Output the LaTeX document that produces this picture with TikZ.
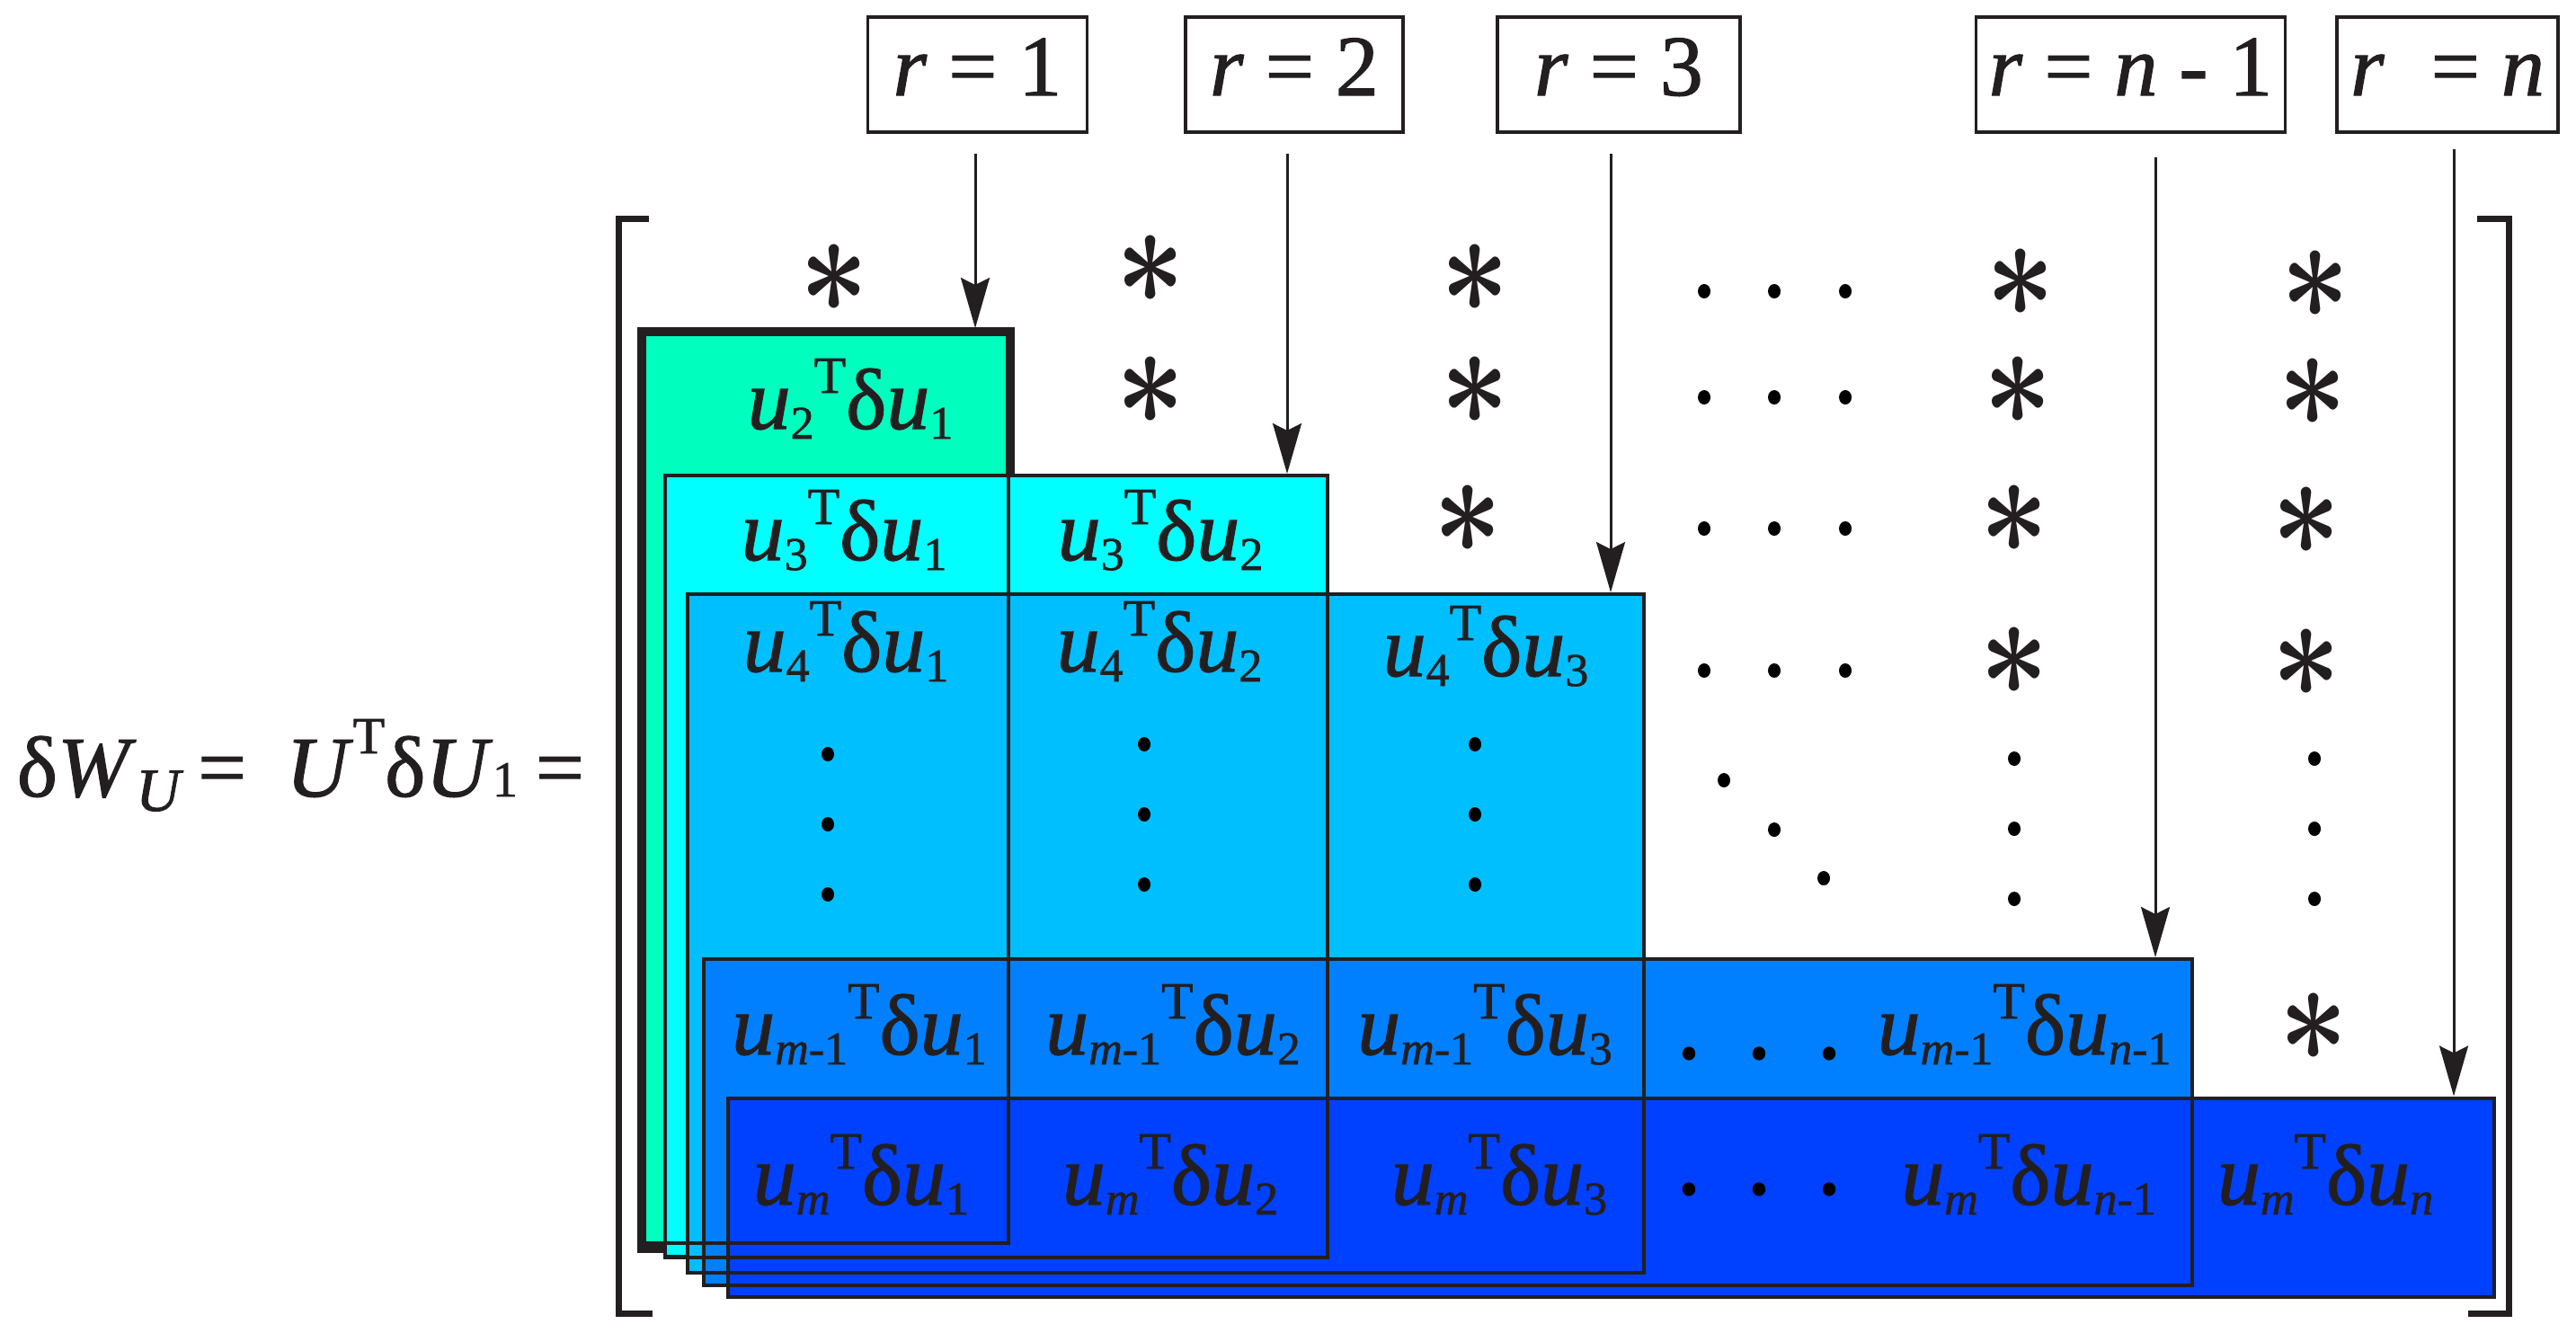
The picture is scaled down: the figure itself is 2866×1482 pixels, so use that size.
\documentclass[tikz,border=0pt]{standalone}
\usepackage{fontspec}
\usepackage{graphicx}
\setmainfont{Liberation Serif}[UprightFeatures={FakeBold=1.2}, ItalicFeatures={FakeBold=1.2}]
\usetikzlibrary{arrows.meta}
\definecolor{ink}{HTML}{231F20}
\definecolor{cA}{HTML}{00FFBF}
\definecolor{cB}{HTML}{00FFFF}
\definecolor{cC}{HTML}{00BFFF}
\definecolor{cD}{HTML}{0080FF}
\definecolor{cE}{HTML}{0040FF}
\font\astfont=cmbsy10 at 40pt
\newcommand\astk{\scalebox{0.84}[1]{\astfont\char3}}
\newcommand\Sb[1]{\raisebox{-2.75pt}{\fontsize{13}{13}\selectfont #1}}
\newcommand\Sp[1]{\raisebox{10pt}{\fontsize{14.5}{14.5}\selectfont #1}}
\newcommand\ent[2]{\textit{u}\Sb{#1}\Sp{T}δ\textit{u}\Sb{#2}}
\begin{document}
\begin{tikzpicture}[x=0.25pt,y=-0.25pt,
  txt/.style={text=ink, font=\fontsize{24}{28}\selectfont, inner sep=0pt},
  cell/.style={txt, anchor=base},
  star/.style={text=ink, inner sep=0pt},
  rbox/.style={draw=ink, line width=0.875pt, text=ink, font=\fontsize{24}{28}\selectfont, minimum height=32pt, text height=17pt, text depth=5.5pt, inner sep=0pt},
  arr/.style={draw=ink, line width=0.75pt, -{Stealth[length=14pt,width=8pt,inset=2pt]}},
  layer/.style={draw=ink, line width=1pt},
  edge/.style={draw=ink, line width=1pt},
  brk/.style={draw=ink, line width=1.75pt}
]
\fill[white] (0,0) rectangle (2866,1482);
\useasboundingbox (0,0) rectangle (2866,1482);

% layers
\path[layer, fill=cA, line width=2.5pt] (714,368.5) rectangle (1124,1388.5);
\path[layer, fill=cB, line width=1.2pt] (740,529) rectangle (1477,1398.5);
\path[layer, fill=cC] (765,661) rectangle (1829,1416);
\path[layer, fill=cD] (782.5,1067) rectangle (2439,1429.5);
\path[layer, fill=cE] (809.5,1221.5) rectangle (2775,1443);
% outlines on top
\draw[edge] (1122,529) -- (1122,1382.5) -- (714,1382.5);
\draw[edge] (740,529) rectangle (1477,1398.5);
\draw[edge] (765,661) rectangle (1829,1416);
\draw[edge] (782.5,1067) rectangle (2439,1429.5);

% brackets
\draw[brk] (722,243) -- (688,243) -- (688,1461) -- (726,1461);
\draw[brk] (2756,243) -- (2791,243) -- (2791,1461) -- (2746,1461);

% left equation
\node[txt, anchor=base west] (eq) at (18,886) {δ\textit{W}\raisebox{-4pt}{\fontsize{17}{17}\selectfont\textit{U}}\hspace{4pt}=\hspace{11pt}\textit{U}\raisebox{12pt}{\fontsize{14.5}{14.5}\selectfont T}δ\textit{U}{\fontsize{14}{14}\selectfont 1}\hspace{5pt}=};

% top boxes
\node[rbox, minimum width=60.9pt] (b1) at (1087.5,83) {\textit{r} = 1};
\node[rbox, minimum width=60.6pt] (b2) at (1440,83) {\textit{r} = 2};
\node[rbox, minimum width=67.6pt] (b3) at (1801,83) {\textit{r} = 3};
\node[rbox, minimum width=85.9pt] (b4) at (2370.5,83) {\textit{r} = \textit{n} - 1};
\node[rbox, minimum width=61.6pt] (b5) at (2723,83) {\textit{r}\hspace{7pt} = \textit{n}};

% arrows
\coordinate (s1) at (1085,171);  \coordinate (t1) at (1085,365);
\coordinate (s2) at (1432,171);  \coordinate (t2) at (1432,527);
\coordinate (s3) at (1792,171);  \coordinate (t3) at (1792,659);
\coordinate (s4) at (2398,175);  \coordinate (t4) at (2398,1065);
\coordinate (s5) at (2730,166);  \coordinate (t5) at (2730,1219.5);
\draw[arr] (s1) -- (t1);
\draw[arr] (s2) -- (t2);
\draw[arr] (s3) -- (t3);
\draw[arr] (s4) -- (t4);
\draw[arr] (s5) -- (t5);

% cells
\node[cell] (c21) at (946,477) {\ent{2}{1}};
\node[cell] (c31) at (939,623) {\ent{3}{1}};
\node[cell] (c32) at (1291,623) {\ent{3}{2}};
\node[cell] (c41) at (941,747) {\ent{4}{1}};
\node[cell] (c42) at (1290,747) {\ent{4}{2}};
\node[cell] (c43) at (1653,752) {\ent{4}{3}};
\node[cell] (cp1) at (956,1173) {\ent{\textit{m}-1}{1}};
\node[cell] (cp2) at (1305,1173) {\ent{\textit{m}-1}{2}};
\node[cell] (cp3) at (1652,1173) {\ent{\textit{m}-1}{3}};
\node[cell] (cp4) at (2252,1173) {\ent{\textit{m}-1}{\textit{n}-1}};
\node[cell] (cm1) at (958,1340) {\ent{\textit{m}}{1}};
\node[cell] (cm2) at (1302,1340) {\ent{\textit{m}}{2}};
\node[cell] (cm3) at (1668,1340) {\ent{\textit{m}}{3}};
\node[cell] (cm4) at (2257,1340) {\ent{\textit{m}}{\textit{n}-1}};
\node[cell] (cm5) at (2587,1340) {\ent{\textit{m}}{\textit{n}}};

% asterisks
\foreach \p/\n in {{928,310}/a11,{1280,300}/a12,{1641,310}/a13,{2248,315}/a14,{2576,317}/a15,
  {1280,435}/a22,{1641,435}/a23,{2245,435}/a24,{2573,437}/a25,
  {1633,578}/a33,{2241,578}/a34,{2566,580}/a35,
  {2241,736}/a44,{2566,738}/a45,{2574,1143}/a55}
  \node[star] (\n) at (\p) {\astk};

% dots
\foreach \y in {324,442,588,746}
  \foreach \x in {1896,1974,2053}
    \fill[black] (\x,\y) ellipse [x radius=1.75pt, y radius=2pt];
\foreach \y in {839,917,995} \fill[black] (921,\y) ellipse [x radius=1.75pt, y radius=2pt];
\foreach \y in {828,906,984} {
  \fill[black] (1273,\y) ellipse [x radius=1.75pt, y radius=2pt];
  \fill[black] (1641,\y) ellipse [x radius=1.75pt, y radius=2pt];}
\foreach \p in {{1918,868},{1974,923},{2029,977}} \fill[black] (\p) ellipse [x radius=1.75pt, y radius=2pt];
\foreach \y in {844,922,1000} {
  \fill[black] (2241,\y) ellipse [x radius=1.75pt, y radius=2pt];
  \fill[black] (2575,\y) ellipse [x radius=1.75pt, y radius=2pt];}
\foreach \x in {1879,1957,2035} {
  \fill[black] (\x,1172) ellipse [x radius=1.8pt, y radius=1.9pt];
  \fill[black] (\x,1323) ellipse [x radius=1.8pt, y radius=1.9pt];}
\end{tikzpicture}
\end{document}
